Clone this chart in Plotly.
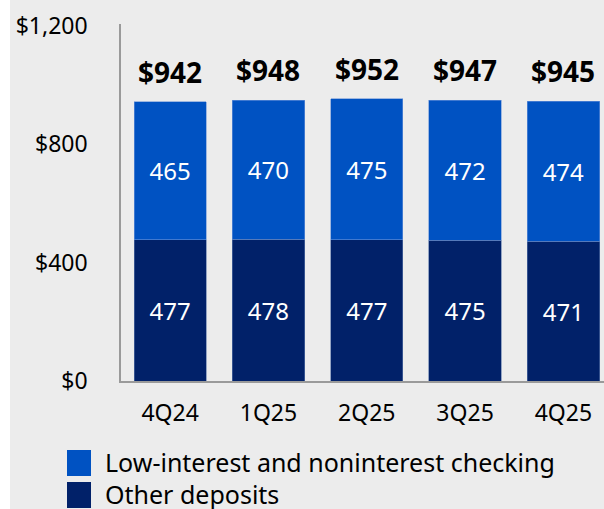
import plotly.graph_objects as go

quarters = ['4Q24', '1Q25', '2Q25', '3Q25', '4Q25']
other_deposits = [477, 478, 477, 475, 471]
low_interest = [465, 470, 475, 472, 474]
totals = [942, 948, 952, 947, 945]

NAVY = '#012169'
BLUE = '#0052c2'
BG = '#ececec'
FONT = 'Noto Sans'

W, H = 604, 509
L, R, T, B = 121, 0, 24, 128
PW, PH = W - L - R, H - T - B


def px_x(x):
    return (x - L) / PW


def px_y(y):
    return (H - B - y) / PH


fig = go.Figure()

fig.add_trace(go.Bar(
    x=quarters, y=other_deposits, name='Other deposits',
    marker=dict(color=NAVY, line=dict(color='#5a74a8', width=0.6)),
    text=other_deposits, textposition='inside', insidetextanchor='middle',
    textfont=dict(color='white', size=24, family=FONT),
    showlegend=False,
))
fig.add_trace(go.Bar(
    x=quarters, y=low_interest, name='Low-interest and noninterest checking',
    marker=dict(color=BLUE, line=dict(color='#6b95d8', width=0.6)),
    text=low_interest, textposition='inside', insidetextanchor='middle',
    textfont=dict(color='white', size=24, family=FONT),
    showlegend=False,
))

# totals above the stacks
for q, t in zip(quarters, totals):
    fig.add_annotation(
        x=q, y=t, text=f'<b>${t:,}</b>', showarrow=False,
        yanchor='bottom', yshift=9,
        font=dict(size=28, color='black', family=FONT),
    )

shapes = [
    # gray panel, white strip on the left edge
    dict(type='rect', xref='paper', yref='paper', layer='below',
         x0=px_x(10), x1=px_x(W + 5), y0=px_y(H + 5), y1=px_y(-5),
         fillcolor=BG, line=dict(width=0)),
]

# hand-drawn legend (large squares)
legend_items = [('Low-interest and noninterest checking', BLUE, 450),
                ('Other deposits', NAVY, 482)]
for name, col, top in legend_items:
    shapes.append(dict(type='rect', xref='paper', yref='paper',
                       x0=px_x(67), x1=px_x(91), y0=px_y(top + 26), y1=px_y(top),
                       fillcolor=col, line=dict(width=0)))
    fig.add_annotation(
        xref='paper', yref='paper', x=px_x(103), y=px_y(top + 12),
        xanchor='left', yanchor='middle', text=name, showarrow=False,
        font=dict(size=25, color='black', family=FONT),
    )

fig.update_layout(
    barmode='stack',
    bargap=0.265,
    width=W, height=H,
    margin=dict(l=L, r=R, t=T, b=B, pad=0),
    paper_bgcolor='white',
    plot_bgcolor='rgba(0,0,0,0)',
    shapes=shapes,
    font=dict(family=FONT, size=20, color='black'),
    showlegend=False,
)

fig.update_xaxes(
    range=[-0.5, (W - 171.5) / 98],
    showline=True, linecolor='#9a9a9a', linewidth=1.5,
    ticks='', tickfont=dict(size=23, family=FONT),
    ticklabelstandoff=11,
    showgrid=False,
)
fig.update_yaxes(
    range=[0, 1205], tickvals=[0, 400, 800, 1200],
    ticktext=['$0', '$400', '$800', '$1,200'],
    showline=True, linecolor='#9a9a9a', linewidth=1.5,
    showgrid=False, zeroline=False, ticks='',
    ticklabelstandoff=27,
    tickfont=dict(size=23, family=FONT),
)

fig.write_html('out.html',
               config={'displayModeBar': False},
               post_script="document.body.style.margin='0';"
                           "document.body.style.overflow='hidden';")
